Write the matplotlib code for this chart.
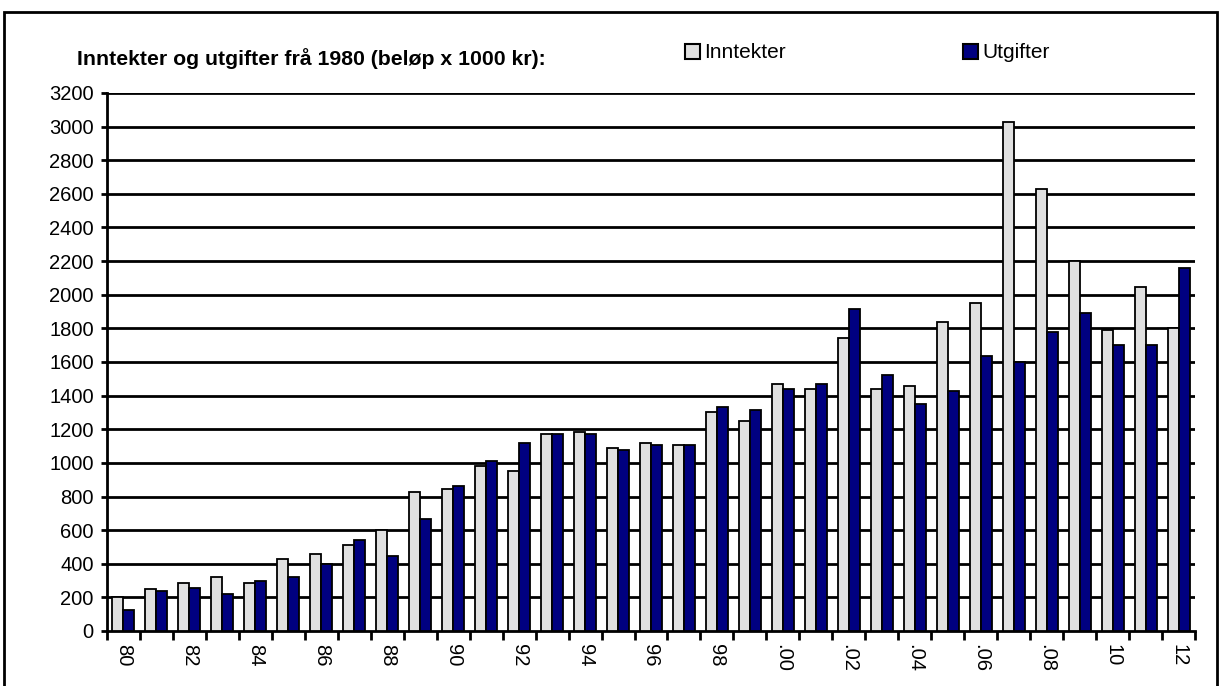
import numpy as np
import matplotlib
matplotlib.use('Agg')
import matplotlib.pyplot as plt
from matplotlib.patches import Rectangle

plt.rcParams['font.family'] = ['Liberation Sans', 'DejaVu Sans']

years = list(range(1980, 2013))
inntekter = [200, 250, 285, 320, 285, 430, 460, 510, 600, 825, 845, 980,
             950, 1170, 1185, 1090, 1120, 1105, 1300, 1250, 1470, 1440,
             1740, 1440, 1460, 1840, 1950, 3025, 2630, 2200, 1790, 2045, 1800]
utgifter = [125, 235, 255, 220, 300, 320, 400, 540, 445, 665, 860, 1010,
            1120, 1170, 1170, 1075, 1105, 1105, 1330, 1315, 1440, 1470,
            1915, 1520, 1350, 1425, 1635, 1600, 1780, 1890, 1700, 1700, 2160]
year_labels = ['80', '82', '84', '86', '88', '90', '92', '94', '96', '98',
               '.00', '.02', '.04', '.06', '.08', '10', '12']

W, H = 1221, 686
fig = plt.figure(figsize=(W/100, H/100), dpi=100)
ax = fig.add_axes([107/W, 1-631/H, (1195-107)/W, (631-93)/H])

x = np.arange(len(years))
w = 1/3
ax.bar(x - w/2, inntekter, w, color='#e0e0e0', edgecolor='black', linewidth=1.3, zorder=3)
ax.bar(x + w/2, utgifter, w, color='#000080', edgecolor='black', linewidth=1.3, zorder=3)

ax.set_xlim(-0.5, len(years) - 0.5)
ax.set_ylim(0, 3200)
ax.set_yticks(range(0, 3201, 200))
for v in range(200, 3201, 200):
    ax.axhline(v, color='black', linewidth=2, zorder=1)

ax.set_xticks(x[::2])
ax.set_xticklabels(year_labels, rotation=270, fontsize=14.5)
ax.tick_params(axis='x', which='major', length=0, pad=9)
ax.set_xticks(np.arange(-0.5, len(years), 1), minor=True)
ax.tick_params(axis='x', which='minor', length=6.5, width=2, direction='out')
ax.tick_params(axis='y', length=4.5, width=2, labelsize=14.5, pad=5)

for s in ['top', 'right']:
    ax.spines[s].set_visible(False)
for s in ['left', 'bottom']:
    ax.spines[s].set_linewidth(2)

fig.text(77/W, 1-65/H, 'Inntekter og utgifter frå 1980 (beløp x 1000 kr):',
         fontsize=15.3, fontweight='bold', va='baseline', ha='left')

# legend
for lx, col, lab in [(685, '#e0e0e0', 'Inntekter'), (963, '#000080', 'Utgifter')]:
    fig.patches.append(Rectangle((lx/W, 1-59/H), 15/W, 15/H, transform=fig.transFigure,
                                 facecolor=col, edgecolor='black', linewidth=1.5))
    fig.text((lx+19)/W, 1-58/H, lab, fontsize=15, va='baseline', ha='left')

fig.patches.append(Rectangle((4/W, -0.05), (1217-4)/W, 1.05-12/H, transform=fig.transFigure,
                             fill=False, edgecolor='black', linewidth=2))

fig.savefig('out.png', dpi=100)
